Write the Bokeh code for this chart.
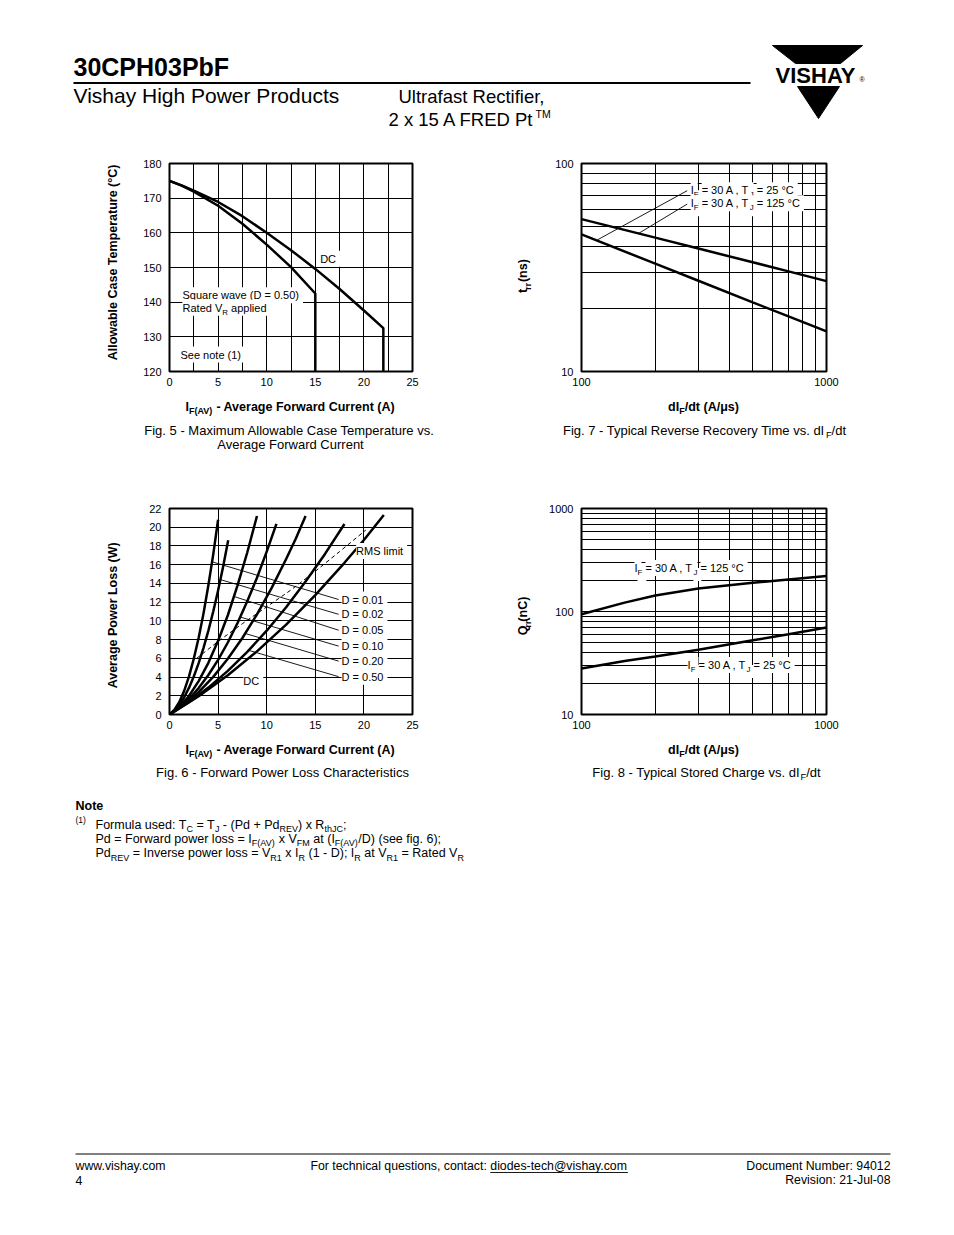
from math import pi
from bokeh.plotting import figure
from bokeh.layouts import column, row
from bokeh.models import Range1d, FixedTicker, BasicTickFormatter
from bokeh.core.properties import value
from bokeh.embed import file_html
from bokeh.resources import INLINE

FONT = "Liberation Sans"

# ---------------- data ----------------
# Fig. 5 - Maximum allowable case temperature vs. average forward current
f5_x_ticks = [0, 5, 10, 15, 20, 25]
f5_y_ticks = [120, 130, 140, 150, 160, 170, 180]
f5_x_grid = [2.5, 5, 7.5, 10, 12.5, 15, 17.5, 20, 22.5]
f5_y_grid = [130, 140, 150, 160, 170]
f5_dc_i = [0, 1.25, 2.5, 5, 7.5, 10, 12.5, 15, 17.5, 20, 22, 22]
f5_dc_t = [175, 173.7, 172.2, 168.9, 164.8, 160.0, 155.0, 149.6, 143.8, 137.6, 132.5, 120]
f5_sq_i = [0, 1.25, 2.5, 5, 7.5, 10, 12.5, 15, 15]
f5_sq_t = [175, 173.6, 171.9, 167.8, 162.6, 156.6, 150.1, 142.5, 120]

# Fig. 7 - Typical reverse recovery time vs. dIF/dt
f7_x_ticks = [100, 1000]
f7_y_ticks = [10, 100]
f7_x_grid = [200, 300, 400, 500, 600, 700, 800, 900]
f7_y_grid = [20, 30, 40, 50, 60, 70, 80, 90]
f7_didt = [100, 200, 300, 500, 700, 1000]
f7_trr_125 = [54, 44, 39, 33.5, 30.3, 27.2]
f7_trr_25 = [45.6, 33, 27.3, 21.5, 18.4, 15.6]

# Fig. 6 - Forward power loss characteristics
f6_x_ticks = [0, 5, 10, 15, 20, 25]
f6_y_ticks = [0, 2, 4, 6, 8, 10, 12, 14, 16, 18, 20, 22]
f6_x_grid = [5, 10, 15, 20]
f6_y_grid = [2, 4, 6, 8, 10, 12, 14, 16, 18, 20]
f6_d001_i = [0, 0.5, 1, 1.5, 2, 2.5, 3, 3.5, 4, 4.5, 5.0]
f6_d001_p = [0, 0.48, 1.31, 2.5, 4.05, 5.95, 8.2, 10.8, 13.8, 17.1, 20.8]
f6_d002_i = [0, 0.5, 1, 1.5, 2, 2.5, 3, 3.5, 4, 4.5, 5, 5.5, 6.04]
f6_d002_p = [0, 0.4, 1.01, 1.82, 2.84, 4.06, 5.49, 7.12, 8.96, 11.0, 13.25, 15.7, 18.6]
f6_d005_i = [0, 1, 2, 3, 4, 5, 6, 7, 8, 9]
f6_d005_p = [0, 0.8, 1.98, 3.56, 5.52, 7.88, 10.6, 13.8, 17.3, 21.2]
f6_d010_i = [0, 1, 2, 3, 4, 5, 6, 7, 8, 9, 10, 11]
f6_d010_p = [0, 0.71, 1.65, 2.82, 4.22, 5.84, 7.69, 9.77, 12.1, 14.6, 17.4, 20.35]
f6_d020_i = [0, 1.5, 3, 4.5, 6, 7.5, 9, 10.5, 12, 13, 14]
f6_d020_p = [0, 1.05, 2.39, 4.02, 5.95, 8.17, 10.7, 13.5, 16.6, 18.8, 21.2]
f6_d050_i = [0, 2, 4, 6, 8, 10, 12, 14, 16, 18]
f6_d050_p = [0, 1.32, 2.87, 4.66, 6.69, 8.95, 11.45, 14.2, 17.15, 20.35]
f6_dc_i = [0, 3, 6, 9, 12, 15, 18, 20, 22.05]
f6_dc_p = [0, 1.95, 4.2, 6.74, 9.59, 12.74, 16.2, 18.64, 21.3]
f6_rms_i = [2.8, 5.0, 7.5, 10.0, 12.5, 15.0, 17.5, 20.2]
f6_rms_p = [6.0, 7.8, 9.7, 11.5, 13.3, 15.3, 17.4, 19.7]
f6_labels = ["D = 0.01", "D = 0.02", "D = 0.05", "D = 0.10", "D = 0.20", "D = 0.50"]

# Fig. 8 - Typical stored charge vs. dIF/dt
f8_x_ticks = [100, 1000]
f8_y_ticks = [10, 100, 1000]
f8_x_grid = [200, 300, 400, 500, 600, 700, 800, 900]
f8_y_grid = [20, 30, 40, 50, 60, 70, 80, 90, 100, 200, 300, 400, 500, 600, 700, 800, 900]
f8_didt = [100, 150, 200, 300, 500, 700, 1000]
f8_qrr_125 = [94, 122, 143, 167, 190, 205, 221]
f8_qrr_25 = [28, 33, 36.5, 42.5, 52.5, 60, 70]

# ---------------- text helpers ----------------
HR = {' ': 278, '!': 278, '"': 355, '#': 556, '$': 556, '%': 889, '&': 667, "'": 191, '(': 333, ')': 333,
      '*': 389, '+': 584, ',': 278, '-': 333, '.': 278, '/': 278, ':': 278, ';': 278, '<': 584, '=': 584,
      '>': 584, '?': 556, '@': 1015, 'A': 667, 'B': 667, 'C': 722, 'D': 722, 'E': 667, 'F': 611, 'G': 778,
      'H': 722, 'I': 278, 'J': 500, 'K': 667, 'L': 556, 'M': 833, 'N': 722, 'O': 778, 'P': 667, 'Q': 778,
      'R': 722, 'S': 667, 'T': 611, 'U': 722, 'V': 667, 'W': 944, 'X': 667, 'Y': 667, 'Z': 611, 'a': 556,
      'b': 556, 'c': 500, 'd': 556, 'e': 556, 'f': 278, 'g': 556, 'h': 556, 'i': 222, 'j': 222, 'k': 500,
      'l': 222, 'm': 833, 'n': 556, 'o': 556, 'p': 556, 'q': 556, 'r': 333, 's': 500, 't': 278, 'u': 556,
      'v': 500, 'w': 722, 'x': 500, 'y': 500, 'z': 500, '°': 400, 'μ': 556}
HB = {' ': 278, '!': 333, '(': 333, ')': 333, '-': 333, '.': 278, '/': 278, ':': 333, ';': 333, '=': 584,
      'A': 722, 'B': 722, 'C': 722, 'D': 722, 'E': 667, 'F': 611, 'G': 778, 'H': 722, 'I': 278, 'J': 556,
      'K': 722, 'L': 611, 'M': 833, 'N': 722, 'O': 778, 'P': 667, 'Q': 778, 'R': 722, 'S': 667, 'T': 611,
      'U': 722, 'V': 667, 'W': 944, 'X': 667, 'Y': 667, 'Z': 611, 'a': 556, 'b': 611, 'c': 556, 'd': 611,
      'e': 556, 'f': 333, 'g': 611, 'h': 611, 'i': 278, 'j': 278, 'k': 556, 'l': 278, 'm': 889, 'n': 611,
      'o': 611, 'p': 611, 'q': 611, 'r': 389, 's': 556, 't': 333, 'u': 611, 'v': 556, 'w': 778, 'x': 556,
      'y': 556, 'z': 500, '°': 400, 'μ': 611}
SUB = 0.72
MID = 0.36  # cap-centre above the baseline, in em


def tw(s, size, bold=False):
    t = HB if bold else HR
    return sum(t.get(c, 556) for c in s) * size / 1000.0


def _txt(f, x, y, s, size, bold=False, align="left", angle=0.0, color="black"):
    f.text(x=[x], y=[y], text=[s], angle=angle, text_font=value(FONT),
           text_font_size=f"{size:.2f}px", text_font_style="bold" if bold else "normal",
           text_align=align, text_baseline="middle", text_color=color)


def ptext(f, x, y, s, size, bold=False, align="left", color="black"):
    # y is the baseline (page pixels, downwards)
    _txt(f, x, y - MID * size, s, size, bold, align, color=color)


def prich(f, x, y, segs, size, bold=False, align="left", vertical=False):
    ws = [tw(t, size * SUB if k else size, bold) for t, k in segs]
    W = sum(ws)
    cum = {"left": 0.0, "center": -W / 2, "right": -W}[align]
    for (t, k), w in zip(segs, ws):
        sz = size * SUB if k else size
        core = t.strip(" ")
        lead = tw(" " * (len(t) - len(t.lstrip(" "))), sz, bold)
        cw = tw(core, sz, bold)
        sh = 0.28 * size if k == "sub" else (-0.4 * size if k == "sup" else 0.0)
        if vertical:
            cx = x + sh - MID * sz
            cy = y - (cum + lead + cw / 2)
            _txt(f, cx, cy, core, sz, bold, align="center", angle=pi / 2)
        else:
            _txt(f, x + cum + lead, y + sh - MID * sz, core, sz, bold, align="left")
        cum += w


def crich(p, x, y, segs, size=11.0, bg=True):
    items, c = [], 0.0
    for t, k in segs:
        sz = size * SUB if k else size
        core = t.strip(" ")
        lead = tw(" " * (len(t) - len(t.lstrip(" "))), sz)
        items.append((core, k, sz, c + lead))
        c += tw(t, sz)
    passes = ["bg", "fg"] if bg else ["fg"]
    for ps in passes:
        for core, k, sz, off in items:
            kw = dict(x=[x], y=[y], text=[core], x_offset=off, text_font=value(FONT),
                      text_font_size=f"{sz:.2f}px", text_align="left",
                      text_baseline="top" if k == "sub" else "middle")
            if ps == "bg":
                p.text(**kw, text_color="white", background_fill_color="white", padding=2)
            else:
                p.text(**kw, text_color="black")


def page_fig(x0, x1, y0, y1):
    f = figure(width=x1 - x0, height=y1 - y0, x_range=Range1d(x0, x1), y_range=Range1d(y1, y0),
               output_backend="svg", toolbar_location=None, min_border=0,
               x_axis_location=None, y_axis_location=None)
    f.grid.visible = False
    f.outline_line_color = None
    f.background_fill_color = "white"
    f.border_fill_color = "white"
    return f


def chart(x0, x1, y0, y1, fl, fr, ft, fb, xr, yr, log=False):
    p = figure(width=x1 - x0, height=y1 - y0, x_range=xr, y_range=yr,
               x_axis_type="log" if log else "linear", y_axis_type="log" if log else "linear",
               output_backend="svg", toolbar_location=None,
               min_border_left=fl - x0, min_border_right=x1 - fr,
               min_border_top=ft - y0, min_border_bottom=y1 - fb)
    p.outline_line_color = "black"
    p.outline_line_width = 2
    p.background_fill_color = "white"
    p.border_fill_color = "white"
    for ax in p.axis:
        ax.axis_line_color = None
        ax.major_tick_line_color = None
        ax.minor_tick_line_color = None
        ax.major_tick_in = 0
        ax.major_tick_out = 0
        ax.major_label_text_font = FONT
        ax.major_label_text_font_size = "11px"
        ax.major_label_text_color = "black"
    p.xaxis.major_label_standoff = 6
    p.yaxis.major_label_standoff = 8
    p.grid.grid_line_color = "black"
    p.grid.grid_line_width = 1
    p.grid.grid_line_alpha = 1.0
    if log:
        p.xaxis.formatter = BasicTickFormatter(use_scientific=False)
        p.yaxis.formatter = BasicTickFormatter(use_scientific=False)
    return p


CW = 2.5  # curve width

# ---------------- header ----------------
hdr = page_fig(0, 954, 0, 150)
ptext(hdr, 73, 75, "30CPH03PbF", 25, bold=True)
hdr.segment(x0=[73], y0=[82.5], x1=[750], y1=[82.5], line_width=2, line_color="black")
ptext(hdr, 73, 103, "Vishay High Power Products", 21)
ptext(hdr, 398, 102.5, "Ultrafast Rectifier,", 18.5)
ptext(hdr, 388, 125.5, "2 x 15 A FRED Pt", 18.5)
ptext(hdr, 389 + tw("2 x 15 A FRED Pt", 18.5), 117.5, "TM", 10.5)
hdr.patch([772, 862, 840, 795], [45, 45, 63, 63], color="black")
hdr.patch([797, 839, 818], [86, 86, 118], color="black")
ptext(hdr, 815, 82.5, "VISHAY", 22, bold=True, align="center")
ptext(hdr, 859, 81.5, "®", 7)

# ---------------- Fig. 5 ----------------
p5 = chart(125, 490, 150, 396, 169, 412, 163, 371, Range1d(0, 25), Range1d(120, 180))
p5.xaxis.ticker = FixedTicker(ticks=f5_x_ticks)
p5.yaxis.ticker = FixedTicker(ticks=f5_y_ticks)
p5.xgrid.ticker = FixedTicker(ticks=f5_x_grid)
p5.ygrid.ticker = FixedTicker(ticks=f5_y_grid)
p5.line(f5_dc_i, f5_dc_t, line_width=CW, line_color="black", line_join="round")
p5.line(f5_sq_i, f5_sq_t, line_width=CW, line_color="black", line_join="round")
crich(p5, 15.5, 152.5, [("DC", "")])
crich(p5, 1.34, 142.0, [("Square wave (D = 0.50)", "")])
crich(p5, 1.34, 138.4, [("Rated V", ""), ("R", "sub"), (" applied", "")])
crich(p5, 1.13, 124.9, [("See note (1)", "")])

# ---------------- Fig. 7 ----------------
p7 = chart(535, 954, 150, 396, 581, 826, 163, 371, Range1d(100, 1000), Range1d(10, 100), log=True)
p7.xaxis.ticker = FixedTicker(ticks=f7_x_ticks)
p7.yaxis.ticker = FixedTicker(ticks=f7_y_ticks)
p7.xgrid.ticker = FixedTicker(ticks=f7_x_grid)
p7.ygrid.ticker = FixedTicker(ticks=f7_y_grid)
p7.line(f7_didt, f7_trr_125, line_width=CW, line_color="black")
p7.line(f7_didt, f7_trr_25, line_width=CW, line_color="black")
p7.segment(x0=[270, 270], y0=[74, 63.8], x1=[116, 171], y1=[42.9, 46.1], line_width=0.9, line_color="black")
crich(p7, 279, 74.3, [("I", ""), ("F", "sub"), (" = 30 A , T", ""), ("J", "sub"), (" = 25 °C", "")])
crich(p7, 279, 64.4, [("I", ""), ("F", "sub"), (" = 30 A , T", ""), ("J", "sub"), (" = 125 °C", "")])

# ---------------- Fig. 6 ----------------
p6 = chart(125, 490, 470, 740, 169, 412, 506, 714, Range1d(0, 25), Range1d(0, 22))
p6.xaxis.ticker = FixedTicker(ticks=f6_x_ticks)
p6.yaxis.ticker = FixedTicker(ticks=f6_y_ticks)
p6.xgrid.ticker = FixedTicker(ticks=f6_x_grid)
p6.ygrid.ticker = FixedTicker(ticks=f6_y_grid)
for xs, ys in [(f6_d001_i, f6_d001_p), (f6_d002_i, f6_d002_p), (f6_d005_i, f6_d005_p),
               (f6_d010_i, f6_d010_p), (f6_d020_i, f6_d020_p), (f6_d050_i, f6_d050_p),
               (f6_dc_i, f6_dc_p)]:
    p6.line(xs, ys, line_width=CW, line_color="black", line_join="round")
p6.line(f6_rms_i, f6_rms_p, line_width=1, line_color="black", line_dash="4 3")
lbl_p = [12.28, 10.7, 9.0, 7.3, 5.7, 4.04]
p6.segment(x0=[17.4] * 6, y0=lbl_p,
           x1=[4.4, 5.25, 6.65, 7.3, 7.8, 8.15], y1=[16.3, 14.4, 12.6, 10.4, 8.65, 6.85],
           line_width=0.9, line_color="black")
for t, yv in zip(f6_labels, lbl_p):
    crich(p6, 17.7, yv, [(t, "")])
crich(p6, 19.2, 17.45, [("RMS limit", "")])
crich(p6, 7.6, 3.6, [("DC", "")])

# ---------------- Fig. 8 ----------------
p8 = chart(535, 954, 470, 740, 581, 826, 508, 715, Range1d(100, 1000), Range1d(10, 1000), log=True)
p8.xaxis.ticker = FixedTicker(ticks=f8_x_ticks)
p8.yaxis.ticker = FixedTicker(ticks=f8_y_ticks)
p8.xgrid.ticker = FixedTicker(ticks=f8_x_grid)
p8.ygrid.ticker = FixedTicker(ticks=f8_y_grid)
p8.line(f8_didt, f8_qrr_125, line_width=CW, line_color="black")
p8.line(f8_didt, f8_qrr_25, line_width=CW, line_color="black")
crich(p8, 164.5, 265, [("I", ""), ("F", "sub"), (" = 30 A , T", ""), ("J", "sub"), (" = 125 °C", "")])
crich(p8, 271, 30.3, [("I", ""), ("F", "sub"), (" = 30 A , T", ""), ("J", "sub"), (" = 25 °C", "")])

# ---------------- axis titles (rotated) ----------------
tA = page_fig(0, 125, 150, 396)
prich(tA, 117, 267, [("Allowable Case Temperature (°C)", "")], 12.5, bold=True, align="center", vertical=True)
tB = page_fig(490, 535, 150, 396)
prich(tB, 527, 284, [("t", ""), ("rr", "sub"), (" (ns)", "")], 12.5, bold=True, align="center", vertical=True)
tC = page_fig(0, 125, 470, 740)
prich(tC, 117, 610, [("Average Power Loss (W)", "")], 12.5, bold=True, align="center", vertical=True)
tD = page_fig(490, 535, 470, 740)
prich(tD, 527, 612, [("Q", ""), ("rr", "sub"), (" (nC)", "")], 12.5, bold=True, align="center", vertical=True)

# ---------------- captions ----------------
cap1 = page_fig(0, 954, 396, 470)
prich(cap1, 290, 410.5, [("I", ""), ("F(AV)", "sub"), (" - Average Forward Current (A)", "")], 12.5, bold=True, align="center")
ptext(cap1, 289, 434.5, "Fig. 5 - Maximum Allowable Case Temperature vs.", 13, align="center")
ptext(cap1, 290, 448.5, "Average Forward Current", 13, align="center")
prich(cap1, 703, 410.5, [("dI", ""), ("F", "sub"), ("/dt (A/μs)", "")], 12.5, bold=True, align="center")
prich(cap1, 704, 434.5, [("Fig. 7 - Typical Reverse Recovery Time vs. dI", ""), ("F", "sub"), ("/dt", "")], 13, align="center")

cap2 = page_fig(0, 954, 740, 790)
prich(cap2, 290, 753.5, [("I", ""), ("F(AV)", "sub"), (" - Average Forward Current (A)", "")], 12.5, bold=True, align="center")
ptext(cap2, 282, 776.5, "Fig. 6 - Forward Power Loss Characteristics", 13, align="center")
prich(cap2, 703, 753.5, [("dI", ""), ("F", "sub"), ("/dt (A/μs)", "")], 12.5, bold=True, align="center")
prich(cap2, 706, 776.5, [("Fig. 8 - Typical Stored Charge vs. dI", ""), ("F", "sub"), ("/dt", "")], 13, align="center")

# ---------------- notes and footer ----------------
bot = page_fig(0, 954, 790, 1235)
ptext(bot, 75, 810, "Note", 12.5, bold=True)
ptext(bot, 75, 823, "(1)", 8.5)
prich(bot, 95, 828.5, [("Formula used: T", ""), ("C", "sub"), (" = T", ""), ("J", "sub"), (" - (Pd + Pd", ""),
                       ("REV", "sub"), (") x R", ""), ("thJC", "sub"), (";", "")], 12.5)
prich(bot, 95, 842.5, [("Pd = Forward power loss = I", ""), ("F(AV)", "sub"), (" x V", ""), ("FM", "sub"),
                       (" at (I", ""), ("F(AV)", "sub"), ("/D) (see fig. 6);", "")], 12.5)
prich(bot, 95, 857, [("Pd", ""), ("REV", "sub"), (" = Inverse power loss = V", ""), ("R1", "sub"), (" x I", ""),
                     ("R", "sub"), (" (1 - D); I", ""), ("R", "sub"), (" at V", ""), ("R1", "sub"),
                     (" = Rated V", ""), ("R", "sub")], 12.5)
bot.segment(x0=[75], y0=[1153.5], x1=[890], y1=[1153.5], line_width=1, line_color="black")
FS = 12.3
ptext(bot, 75, 1170, "www.vishay.com", FS)
ptext(bot, 75, 1184, "4", FS)
pre = "For technical questions, contact: "
mail = "diodes-tech@vishay.com"
ptext(bot, 310, 1170, pre.strip(), FS)
mx = 310 + tw(pre, FS)
ptext(bot, mx, 1170, mail, FS)
bot.segment(x0=[mx], y0=[1172], x1=[mx + tw(mail, FS)], y1=[1172], line_width=0.9, line_color="black")
ptext(bot, 890, 1170, "Document Number: 94012", FS, align="right")
ptext(bot, 890, 1184, "Revision: 21-Jul-08", FS, align="right")

layout = column(
    hdr,
    row(tA, p5, tB, p7, spacing=0),
    cap1,
    row(tC, p6, tD, p8, spacing=0),
    cap2,
    bot,
    spacing=0,
)

open("out.html", "w").write(file_html(layout, INLINE))
